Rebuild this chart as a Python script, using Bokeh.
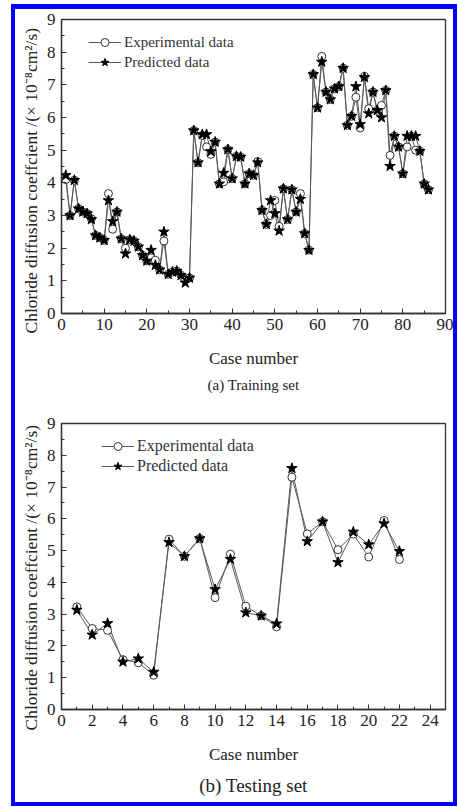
from bokeh.plotting import figure
from bokeh.layouts import column
from bokeh.models import Range1d, SingleIntervalTicker, Legend, LegendItem, Title
from bokeh.embed import file_html
from bokeh.resources import INLINE

# ---------------- data ----------------
train_case = list(range(1, 87))
train_exp = [4.10, 3.00, 4.08, 3.21, 3.11, 3.06, 2.90, 2.39, 2.32, 2.24,
             3.67, 2.58, 3.11, 2.29, 2.00, 2.26, 2.22, 2.04, 1.78, 1.61,
             1.70, 1.63, 1.34, 2.22, 1.20, 1.27, 1.30, 1.17, 1.05, 1.09,
             5.60, 4.62, 5.45, 5.10, 4.87, 5.25, 3.97, 4.03, 5.02, 4.13,
             4.81, 4.79, 3.97, 4.28, 4.23, 4.65, 3.16, 2.73, 3.00, 3.46,
             2.67, 3.82, 2.88, 3.79, 3.11, 3.67, 2.45, 1.94, 7.32, 6.30,
             7.87, 6.78, 6.55, 6.88, 6.95, 7.51, 5.76, 6.04, 6.62, 5.68,
             7.26, 6.27, 6.78, 6.22, 6.37, 6.83, 4.84, 5.43, 5.10, 4.28,
             5.10, 5.43, 5.00, 4.97, 3.97, 3.79]
train_pred = [4.23, 3.00, 4.08, 3.21, 3.11, 3.06, 2.88, 2.39, 2.32, 2.24,
              3.46, 2.82, 3.11, 2.29, 1.83, 2.26, 2.22, 2.04, 1.78, 1.61,
              1.94, 1.48, 1.34, 2.50, 1.20, 1.27, 1.30, 1.17, 0.94, 1.09,
              5.60, 4.62, 5.48, 5.48, 4.96, 5.25, 3.97, 4.30, 5.02, 4.13,
              4.81, 4.79, 3.97, 4.28, 4.23, 4.62, 3.16, 2.73, 3.46, 3.06,
              2.53, 3.82, 2.88, 3.79, 3.11, 3.50, 2.45, 1.94, 7.32, 6.30,
              7.70, 6.78, 6.55, 6.88, 6.95, 7.51, 5.76, 6.04, 6.95, 5.79,
              7.23, 6.12, 6.78, 6.22, 6.00, 6.83, 4.51, 5.43, 5.10, 4.28,
              5.43, 5.43, 5.43, 4.97, 3.97, 3.79]

test_case = list(range(1, 23))
test_exp = [3.23, 2.55, 2.49, 1.57, 1.47, 1.08, 5.36, 4.82, 5.38, 3.52,
            4.89, 3.25, 2.95, 2.60, 7.31, 5.53, 5.91, 5.03, 5.52, 4.80,
            5.95, 4.72]
test_pred = [3.13, 2.35, 2.71, 1.50, 1.60, 1.18, 5.26, 4.82, 5.38, 3.78,
             4.73, 3.05, 2.95, 2.70, 7.59, 5.29, 5.91, 4.63, 5.59, 5.19,
             5.85, 4.98]

y_label = "Chloride diffusion coeffcient /(\u00d7 10\u207b\u2078cm\u00b2/s)"
x_label = "Case number"
legend_labels = ["Experimental data", "Predicted data"]

FONT = "Liberation Serif"
INK = "#222222"
LINE = "#5a5a5a"


def make_fig(xs, exp, pred, xmax, xint, width, height, borders, leg_loc,
             leg_size, caption, cap_size, cap_standoff, ylab_offset):
    top, right, bottom, left = borders
    p = figure(width=width, height=height, output_backend="svg",
               toolbar_location=None,
               x_range=Range1d(0, xmax), y_range=Range1d(0, 9),
               min_border_top=top, min_border_right=right,
               min_border_bottom=bottom, min_border_left=left)
    p.background_fill_color = "white"
    p.border_fill_color = "white"
    p.outline_line_color = "#333333"
    p.outline_line_width = 1.3
    p.xgrid.visible = False
    p.ygrid.visible = False

    p.xaxis.ticker = SingleIntervalTicker(interval=xint, num_minor_ticks=2)
    p.yaxis.ticker = SingleIntervalTicker(interval=1, num_minor_ticks=2)
    for ax in (p.xaxis, p.yaxis):
        ax.axis_line_color = "#333333"
        ax.axis_line_width = 1.3
        ax.major_tick_in = 5
        ax.major_tick_out = 0
        ax.minor_tick_in = 3
        ax.minor_tick_out = 0
        ax.major_tick_line_color = "#333333"
        ax.minor_tick_line_color = "#333333"
        ax.major_label_text_font = FONT
        ax.major_label_text_font_size = "17px"
        ax.major_label_text_color = INK
    p.xaxis.major_label_standoff = 5
    p.yaxis.major_label_standoff = 6
    p.xaxis.axis_label = x_label
    p.xaxis.axis_label_text_font = FONT
    p.xaxis.axis_label_text_font_size = "17px"
    p.xaxis.axis_label_text_font_style = "normal"
    p.xaxis.axis_label_text_color = INK
    p.xaxis.axis_label_standoff = 16

    ytitle = Title(text=y_label, align="left", offset=ylab_offset,
                   text_font=FONT, text_font_size="17.5px",
                   text_font_style="normal", text_color=INK, standoff=6)
    p.add_layout(ytitle, "left")

    cap = Title(text=caption, align="center", text_font=FONT,
                text_font_size=cap_size, text_font_style="normal",
                text_color=INK, standoff=cap_standoff)
    p.add_layout(cap, "below")

    l1 = p.line(xs, exp, line_color=LINE, line_width=1)
    l2 = p.line(xs, pred, line_color=LINE, line_width=1)
    s1 = p.scatter(xs, exp, marker="circle", size=8, fill_color="white",
                   line_color="#333333", line_width=1)
    s2 = p.scatter(xs, pred, marker="star", size=11, fill_color="black",
                   line_color="black", line_width=1)

    legend = Legend(items=[LegendItem(label=legend_labels[0], renderers=[l1, s1]),
                           LegendItem(label=legend_labels[1], renderers=[l2, s2])],
                    location=leg_loc, padding=0, spacing=0, margin=0,
                    border_line_color=None, background_fill_alpha=0,
                    label_text_font=FONT, label_text_font_size=leg_size,
                    label_text_color="#333333",
                    glyph_width=33, glyph_height=20, label_height=20,
                    label_standoff=3)
    p.add_layout(legend)
    return p


p1 = make_fig(train_case, train_exp, train_pred, 90, 10, 438, 389,
              (10, 8, 85, 44), (27, 241), "15px", "(a) Training set", "15px",
              8, -20)
p2 = make_fig(test_case, test_exp, test_pred, 25, 2, 438, 404,
              (25, 2, 92, 46), (40, 233), "16px", "(b) Testing set", "19px",
              13, -21)

layout = column(p1, p2, styles={"border-style": "solid",
                                "border-color": "#0000ff",
                                "border-width": "5px 4px 4px 4px",
                                "margin": "4px 0 0 11px",
                                "box-sizing": "content-box"})

with open("out.html", "w") as f:
    f.write(file_html(layout, INLINE))
